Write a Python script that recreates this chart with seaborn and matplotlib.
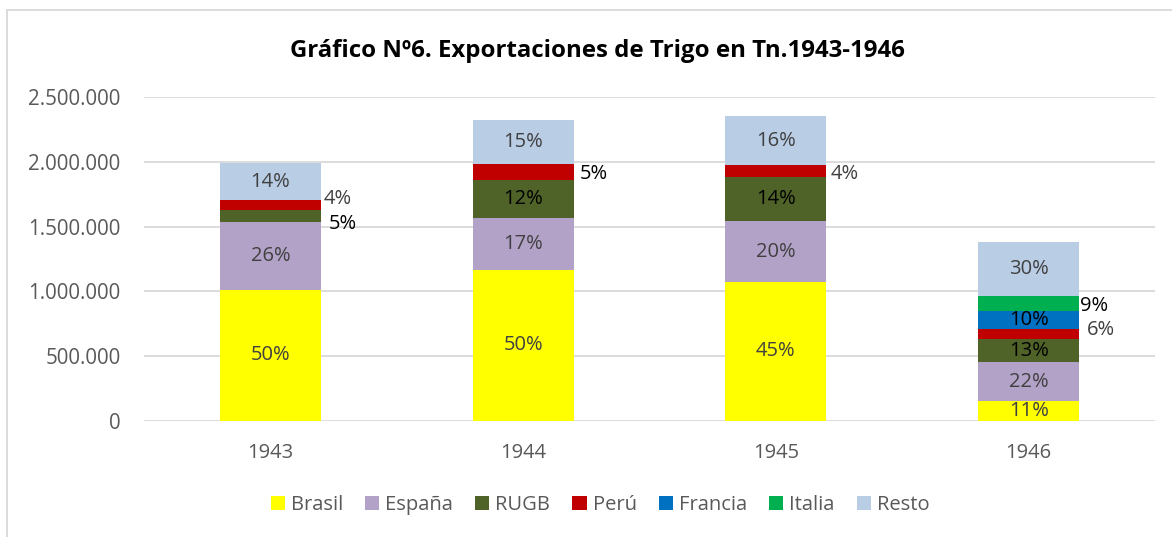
import matplotlib
matplotlib.use("Agg")
import numpy as np
import pandas as pd
import matplotlib.pyplot as plt
import seaborn as sns
from matplotlib.patches import Patch
from matplotlib.lines import Line2D
from matplotlib.ticker import FuncFormatter

# Data (toneladas)
years = ["1943", "1944", "1945", "1946"]
countries = ["Brasil", "España", "RUGB", "Perú", "Francia", "Italia", "Resto"]
colors = ["#FFFF00", "#B3A2C7", "#4F6228", "#C00000", "#0070C0", "#00B050", "#B9CDE5"]

brasil = [1008000, 1168000, 1068000, 151000]
espana = [528000, 402000, 474000, 301000]
rugb = [96000, 294000, 338000, 175000]
peru = [72000, 118000, 95000, 82000]
francia = [0, 0, 0, 137000]
italia = [0, 0, 0, 121000]
resto = [288000, 340000, 381000, 414000]

# porcentajes tal como aparecen en las etiquetas
pct_brasil = ["50%", "50%", "45%", "11%"]
pct_espana = ["26%", "17%", "20%", "22%"]
pct_rugb = ["5%", "12%", "14%", "13%"]
pct_peru = ["4%", "5%", "4%", "6%"]
pct_francia = ["", "", "", "10%"]
pct_italia = ["", "", "", "9%"]
pct_resto = ["14%", "15%", "16%", "30%"]

values = [brasil, espana, rugb, peru, francia, italia, resto]
pcts = [pct_brasil, pct_espana, pct_rugb, pct_peru, pct_francia, pct_italia, pct_resto]

GRAY = "#404040"
label_colors = {
    "Brasil": [GRAY] * 4,
    "España": [GRAY] * 4,
    "RUGB": ["black"] * 4,
    "Perú": [GRAY, "black", GRAY, GRAY],
    "Francia": ["black"] * 4,
    "Italia": ["black"] * 4,
    "Resto": [GRAY] * 4,
}
# labels placed outside the bar: (country, year idx) -> (x offset, y offset)
outside = {
    ("Perú", 0): (0.21, 44000),
    ("RUGB", 0): (0.23, -65000),
    ("Perú", 1): (0.225, -13000),
    ("Perú", 2): (0.215, -17000),
    ("Italia", 3): (0.205, -22000),
    ("Perú", 3): (0.232, 31000),
}

rows = []
for c, v in zip(countries, values):
    for y, val in zip(years, v):
        rows.append({"year": y, "country": c, "value": val})
df = pd.DataFrame(rows)
df["top"] = df.groupby("year")["value"].cumsum()
df["bottom"] = df["top"] - df["value"]

sns.set_theme(style="white")
plt.rcParams["font.family"] = ["Open Sans", "DejaVu Sans"]

fig = plt.figure(figsize=(11.72, 5.37), dpi=100)
ax = fig.add_axes([0.1229, 0.2169, 0.8626, 0.6019])

# stacked bars: draw cumulative tops from the last layer down
for c, col in reversed(list(zip(countries, colors))):
    sub = df[df["country"] == c]
    sns.barplot(data=sub, x="year", y="top", order=years, color=col,
                saturation=1, width=0.4, linewidth=0, ax=ax, zorder=3)

for c, p in zip(countries, pcts):
    sub = df[df["country"] == c].reset_index(drop=True)
    for i, row in sub.iterrows():
        txt = p[i]
        if not txt:
            continue
        mid = (row["top"] + row["bottom"]) / 2
        if (c, i) in outside:
            dx, dy = outside[(c, i)]
            ax.text(i + dx, mid + dy, txt, ha="left", va="center",
                    fontsize=14.5, color=label_colors[c][i], zorder=5)
        else:
            ax.text(i, mid, txt, ha="center", va="center",
                    fontsize=14.5, color=label_colors[c][i], zorder=5)

ax.set_xlim(-0.5, 3.5)
ax.set_ylim(0, 2500000)
ax.set_yticks(np.arange(0, 2500001, 500000))
ax.yaxis.set_major_formatter(FuncFormatter(lambda v, p: f"{int(v):,}".replace(",", ".")))
ax.yaxis.grid(True, color="#D9D9D9", lw=1.3, zorder=0)
ax.set_axisbelow(True)
for s in ax.spines.values():
    s.set_visible(False)
ax.set_xlabel("")
ax.set_ylabel("")
ax.tick_params(axis="y", length=0, pad=17, labelsize=14.8, labelcolor="#595959")
ax.tick_params(axis="x", length=0, pad=16, labelsize=14.5, labelcolor="#595959")

fig.text(0.510, 0.905, "Gráfico Nº6. Exportaciones de Trigo en Tn.1943-1946",
         ha="center", va="center", fontsize=17.3, fontweight="bold", color="black")

handles = [Patch(facecolor=col, edgecolor="none", label=c) for c, col in zip(countries, colors)]
fig.legend(handles=handles, loc="center", bbox_to_anchor=(0.512, 0.06), ncol=7,
           frameon=False, fontsize=14.5, handlelength=0.7, handleheight=0.7,
           handletextpad=0.3, columnspacing=1.1, labelcolor="#595959")

# chart border (only top/left visible in the crop)
fig.add_artist(Line2D([7 / 1172, 7 / 1172], [0, 1 - 10 / 537], transform=fig.transFigure,
                      color="#D9D9D9", lw=1.3))
fig.add_artist(Line2D([7 / 1172, 1], [1 - 10 / 537, 1 - 10 / 537], transform=fig.transFigure,
                      color="#D9D9D9", lw=1.3))

fig.savefig("out.png", dpi=100)
